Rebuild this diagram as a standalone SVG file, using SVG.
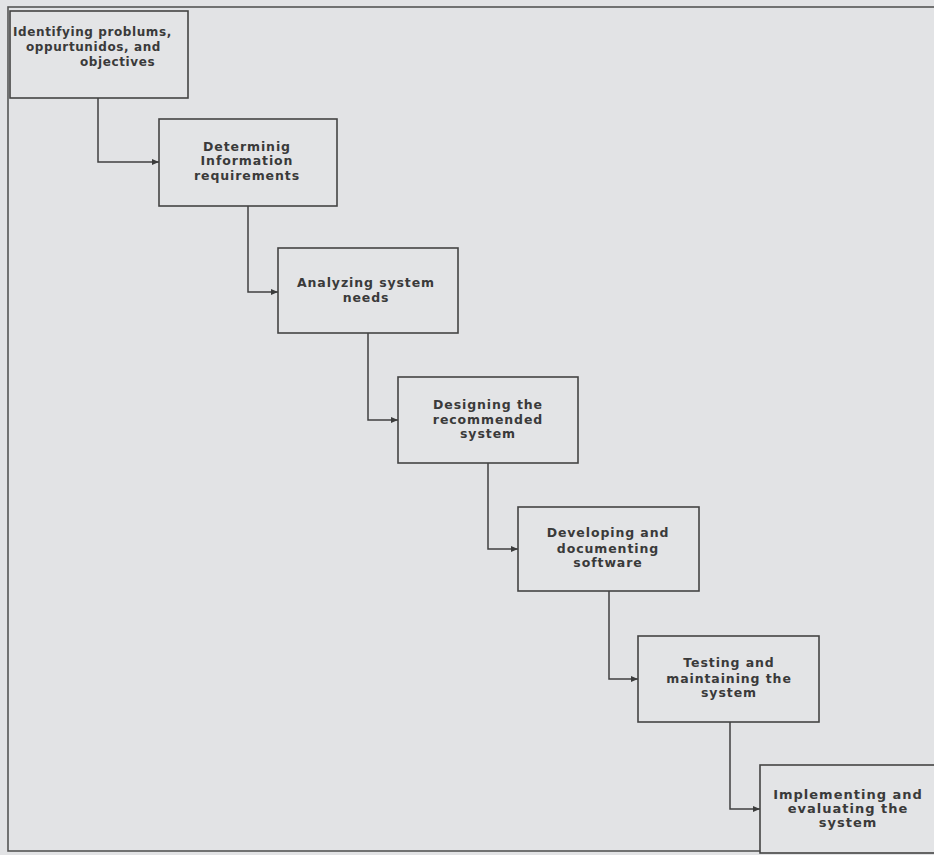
<svg xmlns="http://www.w3.org/2000/svg" width="934" height="855" viewBox="0 0 934 855">
<defs>
<marker id="ah" markerWidth="8" markerHeight="8" refX="7" refY="4" orient="auto" markerUnits="userSpaceOnUse">
<path d="M0,1 L7,4 L0,7 Z" fill="#3c3c3c"/>
</marker>
<style>
.bg{fill:#e2e3e5}
.frame{fill:none;stroke:#555;stroke-width:1.6}
.box{fill:#e3e4e6;stroke:#444;stroke-width:1.6}
.lbl{font-family:"DejaVu Sans","Liberation Sans",sans-serif;font-weight:bold;font-size:12.5px;fill:#3a3a3a;letter-spacing:0.9px}
.s{font-size:12px;letter-spacing:0.6px}
.l{font-size:13px;letter-spacing:1px}
.c{text-anchor:middle}
.conn{fill:none;stroke:#404040;stroke-width:1.5;marker-end:url(#ah)}
</style>
</defs>
<rect class="bg" x="0" y="0" width="934" height="855"/>
<rect class="frame" x="8" y="7" width="940" height="844"/>
<g id="connectors">
<path class="conn" d="M98,98 V162 H159"/>
<path class="conn" d="M248,206 V292 H278"/>
<path class="conn" d="M368,333 V420 H398"/>
<path class="conn" d="M488,463 V549 H518"/>
<path class="conn" d="M609,591 V679 H638"/>
<path class="conn" d="M730,722 V809 H760"/>
</g>
<g id="n1">
<rect class="box" x="10" y="11" width="178" height="87"/>
<text class="lbl s" x="13" y="36">Identifying problums,</text>
<text class="lbl s" x="26" y="51">oppurtunidos, and</text>
<text class="lbl s" x="80" y="66">objectives</text>
</g>
<g id="n2">
<rect class="box" x="159" y="119" width="178" height="87"/>
<text class="lbl c" x="247" y="151">Determinig</text>
<text class="lbl c" x="247" y="165">Information</text>
<text class="lbl c" x="247" y="180">requirements</text>
</g>
<g id="n3">
<rect class="box" x="278" y="248" width="180" height="85"/>
<text class="lbl c" x="366" y="287">Analyzing system</text>
<text class="lbl c" x="366" y="302">needs</text>
</g>
<g id="n4">
<rect class="box" x="398" y="377" width="180" height="86"/>
<text class="lbl c" x="488" y="409">Designing the</text>
<text class="lbl c" x="488" y="424">recommended</text>
<text class="lbl c" x="488" y="438">system</text>
</g>
<g id="n5">
<rect class="box" x="518" y="507" width="181" height="84"/>
<text class="lbl c" x="608" y="537">Developing and</text>
<text class="lbl c" x="608" y="553">documenting</text>
<text class="lbl c" x="608" y="567">software</text>
</g>
<g id="n6">
<rect class="box" x="638" y="636" width="181" height="86"/>
<text class="lbl c" x="729" y="667">Testing and</text>
<text class="lbl c" x="729" y="683">maintaining the</text>
<text class="lbl c" x="729" y="697">system</text>
</g>
<g id="n7">
<rect class="box" x="760" y="765" width="200" height="88"/>
<text class="lbl l c" x="848" y="799">Implementing and</text>
<text class="lbl l c" x="848" y="813">evaluating the</text>
<text class="lbl l c" x="848" y="827">system</text>
</g>
</svg>
